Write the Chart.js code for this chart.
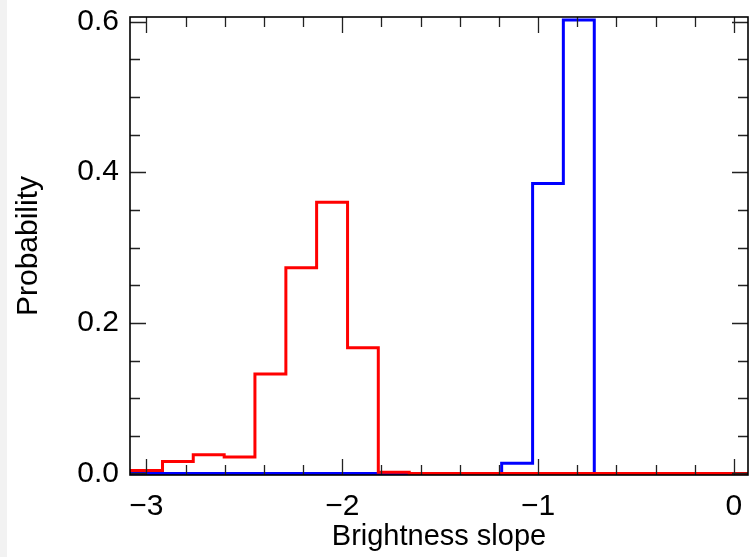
<!DOCTYPE html>
<html>
<head>
<meta charset="utf-8">
<script src="https://cdn.jsdelivr.net/npm/chart.js@4/dist/chart.umd.min.js"></script>
<style>
  html, body { margin: 0; padding: 0; background: #fff; }
  #wrap { position: relative; width: 750px; height: 557px; }
  #strip { position: absolute; left: 0; top: 0; width: 7px; height: 557px; background: #f2f2f2; }
  #chart { position: absolute; left: 0; top: 0; }
</style>
</head>
<body>
<div id="wrap">
  <div id="strip"></div>
  <canvas id="chart" width="750" height="557"></canvas>
</div>
<script>
// histogram bin edges (left edge of each bin, last entry is the right edge of the last bin)
const binEdges = [-3.084, -2.918, -2.761, -2.603, -2.446, -2.288, -2.131, -1.973, -1.816, -1.658,
                  -1.501, -1.343, -1.186, -1.028, -0.871, -0.713, -0.556, -0.398, -0.241, -0.083, 0.074];
// probability per bin
const redProb  = [0.004, 0.016, 0.025, 0.022, 0.132, 0.273, 0.360, 0.167, 0.0015, 0,
                  0, 0, 0, 0, 0, 0, 0, 0, 0, 0];
const blueProb = [0, 0, 0, 0, 0, 0, 0, 0, 0, 0,
                  0, 0, 0.0135, 0.385, 0.602, 0, 0, 0, 0, 0];
const xTickValues = [-3, -2, -1, 0];
const yTickValues = [0, 0.2, 0.4, 0.6];

const FONT = '"Liberation Sans", Arial, Helvetica, sans-serif';

// bins -> points at left edges, plus the closing right edge
function toSteps(vals) {
  const pts = vals.map((v, i) => ({ x: binEdges[i], y: v }));
  pts.push({ x: binEdges[binEdges.length - 1], y: vals[vals.length - 1] });
  return pts;
}

// IDL style frame with inward ticks on all four sides
const FrameTicks = {
  id: "frameTicks",
  afterDraw(chart) {
    const { ctx, chartArea: a, scales: { x, y } } = chart;
    ctx.save();
    ctx.strokeStyle = "#222";
    ctx.lineWidth = 1.3;
    ctx.beginPath();
    for (let i = 0; i <= 15; i++) {
      const v = -3 + i * 0.2;
      const len = i % 5 === 0 ? 16 : 10;
      const px = Math.round(x.getPixelForValue(v)) + 0.5;
      ctx.moveTo(px, a.bottom); ctx.lineTo(px, a.bottom - len);
      ctx.moveTo(px, a.top);    ctx.lineTo(px, a.top + len);
    }
    for (let i = 0; i <= 12; i++) {
      const v = i * 0.05;
      const len = i % 4 === 0 ? 16 : 10;
      const py = Math.round(y.getPixelForValue(v)) + 0.5;
      ctx.moveTo(a.left, py);  ctx.lineTo(a.left + len, py);
      ctx.moveTo(a.right, py); ctx.lineTo(a.right - len, py);
    }
    ctx.stroke();
    ctx.strokeStyle = "#000";
    ctx.lineWidth = 1.6;
    ctx.strokeRect(a.left, a.top, a.right - a.left, a.bottom - a.top);
    ctx.restore();
  }
};

new Chart(document.getElementById("chart"), {
  type: "line",
  data: {
    datasets: [
      { data: toSteps(redProb),  borderColor: "#ff0000", borderWidth: 3, stepped: "before", pointRadius: 0, fill: false },
      { data: toSteps(blueProb), borderColor: "#0000ff", borderWidth: 3, stepped: "before", pointRadius: 0, fill: false }
    ]
  },
  options: {
    responsive: false,
    animation: false,
    devicePixelRatio: 1,
    events: [],
    layout: { padding: { top: 17, right: 2, left: 0, bottom: 0 } },
    plugins: { legend: { display: false }, tooltip: { enabled: false } },
    scales: {
      x: {
        type: "linear",
        min: -3.084,
        max: 0.072,
        grid: { display: false },
        border: { display: false },
        afterBuildTicks: (s) => { s.ticks = xTickValues.map(v => ({ value: v })); },
        afterFit: (s) => { s.height = 82; s.paddingLeft = 0; s.paddingRight = 0; },
        ticks: {
          color: "#000",
          padding: 6,
          maxRotation: 0,
          font: { family: FONT, size: 30 },
          callback: (v) => v === 0 ? "0" : "\u2212" + Math.abs(v)
        },
        title: {
          display: true,
          text: "Brightness slope",
          color: "#000",
          font: { family: FONT, size: 29 },
          padding: { top: 0, bottom: 3 }
        }
      },
      y: {
        min: -0.002,
        max: 0.606,
        grid: { display: false },
        border: { display: false },
        afterBuildTicks: (s) => { s.ticks = yTickValues.map(v => ({ value: v })); },
        afterFit: (s) => { s.width = 130; s.paddingTop = 0; s.paddingBottom = 0; },
        ticks: {
          color: "#000",
          padding: 3,
          font: { family: FONT, size: 30 },
          callback: (v) => Number(v).toFixed(1)
        },
        title: {
          display: true,
          text: "Probability",
          color: "#000",
          font: { family: FONT, size: 30 },
          padding: { top: 11, bottom: 0 }
        }
      }
    }
  },
  plugins: [FrameTicks]
});
</script>
</body>
</html>
